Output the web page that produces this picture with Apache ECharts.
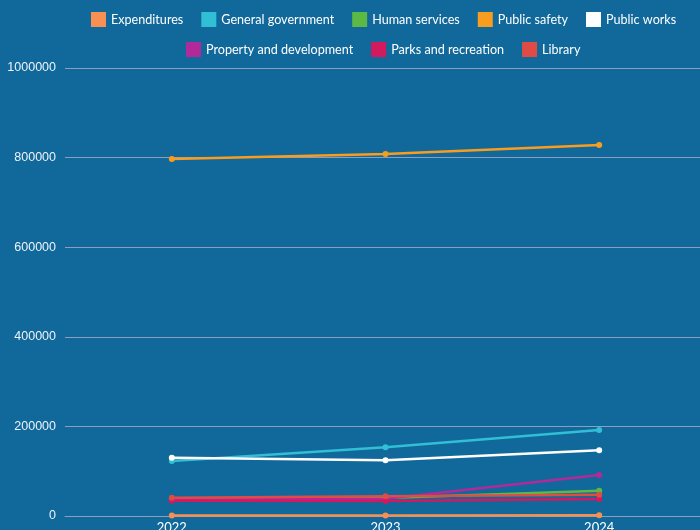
<!DOCTYPE html>
<html>
<head>
<meta charset="utf-8">
<script src="https://cdn.jsdelivr.net/npm/echarts@6/dist/echarts.min.js"></script>
<style>
  html, body { margin: 0; padding: 0; background: #10689b; }
  #chart { width: 700px; height: 530px; }
</style>
</head>
<body>
<div id="chart"></div>
<script>
// Budget by department, 2022–2024
const years = ['2022', '2023', '2024'];
const yTicks = { min: 0, max: 1000000, interval: 200000 };

const expenditures = [1300, 1300, 1400];
const generalGovernment = [122800, 153300, 192000];
const humanServices = [37000, 40000, 56500];
const publicSafety = [797000, 808000, 828000];
const publicWorks = [130100, 124300, 146600];
const propertyDevelopment = [36000, 38500, 91500];
const parksRecreation = [34200, 33500, 38000];
const library = [40900, 44000, 47600];

const seriesDefs = [
  { name: 'Expenditures', data: expenditures, color: '#f79052' },
  { name: 'General government', data: generalGovernment, color: '#31bfd6' },
  { name: 'Human services', data: humanServices, color: '#5cb946' },
  { name: 'Public safety', data: publicSafety, color: '#f89d20' },
  { name: 'Public works', data: publicWorks, color: '#ffffff' },
  { name: 'Property and development', data: propertyDevelopment, color: '#b2299a' },
  { name: 'Parks and recreation', data: parksRecreation, color: '#d31a5e' },
  { name: 'Library', data: library, color: '#e04c45' }
];

const textFont = 'Lato';
const legendBase = {
  itemWidth: 15,
  itemHeight: 15,
  itemGap: 18,
  icon: 'rect',
  padding: 0,
  textStyle: { color: '#ffffff', fontSize: 12.6, fontFamily: textFont },
  inactiveColor: '#7d9cb8'
};

const chart = echarts.init(document.getElementById('chart'), null, { renderer: 'canvas' });
chart.setOption({
  backgroundColor: '#10689b',
  animation: false,
  color: seriesDefs.map(s => s.color),
  legend: [
    Object.assign({}, legendBase, {
      left: 91, top: 12,
      data: seriesDefs.slice(0, 5).map(s => s.name)
    }),
    Object.assign({}, legendBase, {
      left: 186, top: 42,
      data: seriesDefs.slice(5).map(s => s.name)
    })
  ],
  grid: {
    left: 65, top: 68, width: 641, bottom: 14,
    containLabel: false, outerBoundsMode: 'none'
  },
  xAxis: {
    type: 'category',
    data: years,
    boundaryGap: true,
    axisLine: { lineStyle: { color: '#8c9dbd', width: 1 } },
    axisTick: { show: false },
    axisLabel: { color: '#ffffff', fontSize: 13, fontFamily: textFont, margin: 5 }
  },
  yAxis: {
    type: 'value',
    min: yTicks.min,
    max: yTicks.max,
    interval: yTicks.interval,
    axisLine: { show: false },
    axisTick: { show: false },
    axisLabel: {
      color: '#eef3f8', fontSize: 12.5, fontFamily: 'Liberation Sans', margin: 9,
      formatter: v => String(v)
    },
    splitLine: { lineStyle: { color: '#8c9dbd', width: 1 } }
  },
  series: seriesDefs.map(s => ({
    name: s.name,
    type: 'line',
    data: s.data,
    symbol: 'circle',
    symbolSize: 6,
    showSymbol: true,
    lineStyle: { width: 2.5, color: s.color },
    itemStyle: { color: s.color }
  }))
});
</script>
</body>
</html>
